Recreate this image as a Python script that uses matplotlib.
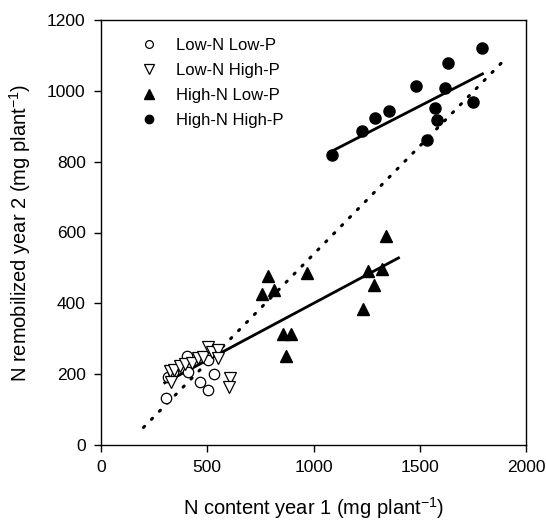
import matplotlib
matplotlib.use("Agg")
import matplotlib.pyplot as plt
import numpy as np

plt.rcParams['font.family'] = ['Liberation Sans', 'DejaVu Sans']
plt.rcParams['mathtext.fontset'] = 'custom'
plt.rcParams['mathtext.rm'] = 'Liberation Sans'
plt.rcParams['mathtext.default'] = 'regular'

# Data
lnlp_x = [304, 317, 340, 403, 410, 466, 505, 533, 502]
lnlp_y = [132, 193, 205, 250, 205, 179, 156, 200, 240]
lnhp_x = [325, 330, 345, 372, 395, 427, 458, 480, 505, 520, 552, 552, 607, 602]
lnhp_y = [209, 179, 212, 222, 228, 231, 245, 248, 278, 262, 269, 245, 189, 165]
hnlp_x = [758, 784, 814, 855, 871, 893, 971, 1231, 1258, 1285, 1321, 1341]
hnlp_y = [426, 476, 438, 313, 250, 313, 487, 384, 490, 452, 497, 589]
hnhp_x = [1085, 1230, 1289, 1355, 1481, 1533, 1572, 1580, 1619, 1631, 1752, 1791]
hnhp_y = [820, 888, 922, 943, 1013, 860, 952, 917, 1009, 1078, 968, 1120]

# fitted lines: slope, intercept, x range
fit_hnlp = (0.3205, 79.5, 300, 1400)
fit_hnhp = (0.308, 495, 1080, 1795)
fit_all = (0.611, -72.6, 200, 1890)

labels = ['Low-N Low-P', 'Low-N High-P', 'High-N Low-P', 'High-N High-P']

fig = plt.figure(figsize=(5.46, 5.24), dpi=100)
ax = fig.add_axes([101/546, 1-445/524, 425/546, 425/524])

def fline(p, **kw):
    s, b, x0, x1 = p
    xs = np.array([x0, x1])
    ax.plot(xs, s*xs + b, **kw)

fline(fit_all, color='black', lw=2.2, linestyle=(0, (0.5, 3.2)), dash_capstyle='round', zorder=1)
fline(fit_hnlp, color='black', lw=2, zorder=2)
fline(fit_hnhp, color='black', lw=2, zorder=2)

ax.plot(lnlp_x, lnlp_y, 'o', ms=7.5, mfc='white', mec='black', mew=0.9, label=labels[0], zorder=3)
ax.plot(lnhp_x, lnhp_y, 'v', ms=9, mfc='white', mec='black', mew=0.9, label=labels[1], zorder=3)
ax.plot(hnlp_x, hnlp_y, '^', ms=9, mfc='black', mec='black', label=labels[2], zorder=3)
ax.plot(hnhp_x, hnhp_y, 'o', ms=8, mfc='black', mec='black', label=labels[3], zorder=3)

ax.set_xlim(0, 2000)
ax.set_ylim(0, 1200)
ax.set_xticks([0, 500, 1000, 1500, 2000])
ax.set_yticks([0, 200, 400, 600, 800, 1000, 1200])
ax.tick_params(direction='out', length=5, width=1, labelsize=12.5, pad=6)
for sp in ax.spines.values():
    sp.set_linewidth(1)

ax.set_xlabel('N content year 1 (mg plant$^{-1}$)', fontsize=14.5, labelpad=14)
ax.set_ylabel('N remobilized year 2 (mg plant$^{-1}$)', fontsize=14.5, labelpad=10)

leg = ax.legend(loc='upper left', bbox_to_anchor=(0.048, 0.993), frameon=False,
                fontsize=12, markerscale=0.75, handlelength=1.5, handletextpad=0.85,
                labelspacing=0.6)

fig.savefig('out.png', dpi=100)
